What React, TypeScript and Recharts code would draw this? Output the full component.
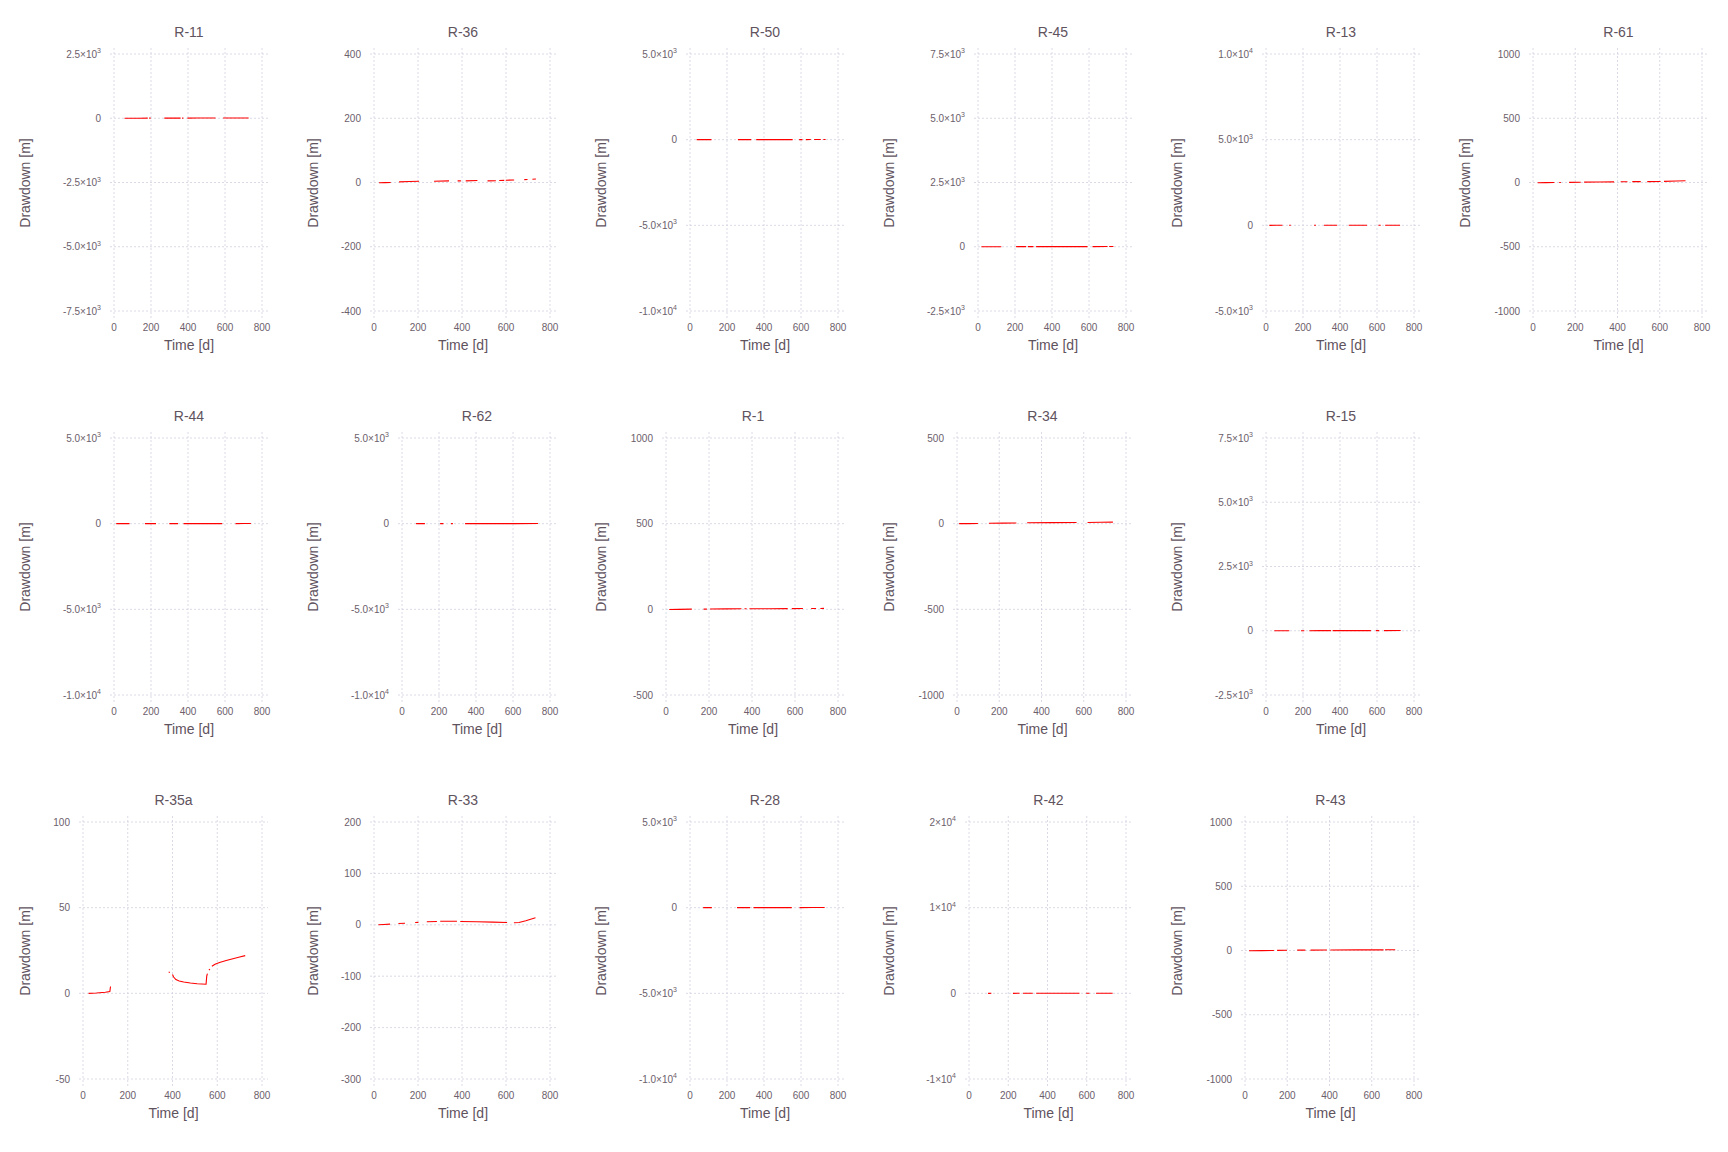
import React from "react";
import { LineChart, Line, XAxis, YAxis, CartesianGrid } from "recharts";

// Time axis shared by every well
const timeTicks = [0, 200, 400, 600, 800];

// Well data: time [d] and drawdown [m]; null marks a gap in the record
const r11Time = [57, 100, 140, 182, 186, 190, 198, 230, 272, 320, 360, 364, 368, 375, 386, 397, 450, 500, 549, 570, 590, 660, 728];
const r11Drawdown = [0, 1, 2, 3, null, 3, 3, null, 4, 5, 5, null, 5, 6, null, 6, 7, 8, 8, null, 9, 10, 11];
const r11Ticks = [2500, 0, -2500, -5000, -7500];
const r11Labels = ["2.5×10^3", "0", "-2.5×10^3", "-5.0×10^3", "-7.5×10^3"];

const r36Time = [23, 50, 76, 95, 114, 160, 205, 240, 273, 341, 360, 380, 395, 406, 417, 470, 493, 516, 554, 561, 569, 592, 595, 599, 637, 660, 683, 698, 709, 720, 736];
const r36Drawdown = [-1, -0.5, 0, null, 2, 3, 4, null, 4, 5, null, 5, 5, null, 5, 6, null, 5, 5.5, null, 6, 6.5, null, 7, 8, null, 9, 9.5, null, 10, 11];
const r36Ticks = [400, 200, 0, -200, -400];
const r36Labels = ["400", "200", "0", "-200", "-400"];

const r50Time = [36, 80, 116, 190, 259, 331, 345, 358, 450, 555, 570, 590, 608, 617, 626, 653, 662, 671, 707, 714, 721, 733];
const r50Drawdown = [0, 1, 2, null, 2, 3, null, 3, 4, 5, null, 5, 5, null, 5, 6, null, 6, 6, null, 6, 7];
const r50Ticks = [5000, 0, -5000, -10000];
const r50Labels = ["5.0×10^3", "0", "-5.0×10^3", "-1.0×10^4"];

const r45Time = [18, 70, 126, 166, 206, 260, 265, 270, 300, 307, 314, 450, 592, 605, 619, 700, 705, 709, 732];
const r45Drawdown = [0, 1, 2, null, 3, 3, null, 3, 4, null, 4, 5, 6, null, 6, 7, null, 7, 8];
const r45Ticks = [7500, 5000, 2500, 0, -2500];
const r45Labels = ["7.5×10^3", "5.0×10^3", "2.5×10^3", "0", "-2.5×10^3"];

const r13Time = [18, 50, 89, 107, 125, 134, 197, 260, 270, 291, 313, 385, 416, 447, 500, 546, 577, 608, 620, 632, 644, 725];
const r13Drawdown = [0, 1, 2, null, 2, 2, null, 3, 3, null, 4, 5, null, 5, 6, 7, null, 7, 7, null, 8, 9];
const r13Ticks = [10000, 5000, 0, -5000];
const r13Labels = ["1.0×10^4", "5.0×10^3", "0", "-5.0×10^3"];

const r61Time = [22, 60, 101, 112, 124, 132, 150, 171, 226, 234, 242, 310, 384, 400, 415, 447, 458, 470, 510, 525, 541, 604, 612, 620, 680, 722];
const r61Drawdown = [-2, -1, 0, null, 0.5, 0.5, null, 1, 2, null, 3, 4, 5, null, 6, 6, null, 7, 7, null, 7, 8, null, 9, 12, 14];
const r61Ticks = [1000, 500, 0, -500, -1000];
const r61Labels = ["1000", "500", "0", "-500", "-1000"];

const r44Time = [12, 50, 84, 125, 167, 227, 263, 299, 346, 361, 376, 480, 585, 621, 657, 700, 740];
const r44Drawdown = [0, 1, 1, null, 2, 2, null, 3, 3, null, 3, 4, 5, null, 5, 6, 6];
const r44Ticks = [5000, 0, -5000, -10000];
const r44Labels = ["5.0×10^3", "0", "-5.0×10^3", "-1.0×10^4"];

const r62Time = [76, 100, 124, 165, 206, 224, 245, 265, 275, 308, 341, 500, 620, 735];
const r62Drawdown = [0, 1, 1, null, 2, 2, null, 3, 3, null, 3, 4, 5, 6];
const r62Ticks = [5000, 0, -5000, -10000];
const r62Labels = ["5.0×10^3", "0", "-5.0×10^3", "-1.0×10^4"];

const r1Time = [15, 60, 120, 148, 175, 190, 198, 205, 280, 351, 358, 365, 375, 382, 388, 480, 566, 575, 585, 637, 656, 675, 698, 708, 718, 735];
const r1Drawdown = [-1, 0, 1, null, 1.5, 1.5, null, 2, 2.5, 3, null, 3, 3, null, 3, 3.5, 4, null, 4, 4.5, null, 5, 5, null, 5, 5.5];
const r1Ticks = [1000, 500, 0, -500];
const r1Labels = ["1000", "500", "0", "-500"];

const r34Time = [10, 55, 99, 125, 151, 220, 281, 306, 332, 450, 566, 592, 618, 680, 738];
const r34Drawdown = [0, 0, 1, null, 2, 3, 4, null, 5, 6, 7, null, 7, 8, 9];
const r34Ticks = [500, 0, -500, -1000];
const r34Labels = ["500", "0", "-500", "-1000"];

const r15Time = [45, 85, 126, 158, 189, 207, 220, 234, 290, 351, 355, 360, 460, 567, 580, 594, 612, 625, 638, 728];
const r15Drawdown = [0, 1, 1, null, 2, 2, null, 2, 3, 3, null, 3, 4, 5, null, 5, 5, null, 6, 7];
const r15Ticks = [7500, 5000, 2500, 0, -2500];
const r15Labels = ["7.5×10^3", "5.0×10^3", "2.5×10^3", "0", "-2.5×10^3"];

const r35aTime = [25, 60, 100, 120, 123, 250, 383, 388, 394, 400, 405, 415, 430, 450, 480, 510, 550, 553, 556, 560, 563, 567, 571, 576, 590, 610, 640, 670, 700, 725];
const r35aDrawdown = [0, 0.2, 0.6, 1, 4, null, 12.5, 12.2, null, 11, 9.5, 8, 7.2, 6.6, 6, 5.6, 5.3, 10, 11.5, null, 13.5, 14.2, null, 15.8, 17, 18, 19.2, 20.2, 21.2, 22];
const r35aTicks = [100, 50, 0, -50];
const r35aLabels = ["100", "50", "0", "-50"];

const r33Time = [20, 45, 73, 92, 111, 141, 164, 187, 202, 221, 240, 286, 293, 301, 377, 384, 392, 468, 540, 605, 620, 636, 659, 690, 734];
const r33Drawdown = [0, 0.5, 1.3, null, 2.6, 3, null, 4.6, 4.8, null, 6, 6.5, null, 7, 7, null, 6.5, 6, 5.2, 4.5, null, 4, 4.5, 8, 13.7];
const r33Ticks = [200, 100, 0, -100, -200, -300];
const r33Labels = ["200", "100", "0", "-100", "-200", "-300"];

const r28Time = [71, 95, 118, 186, 254, 325, 334, 343, 450, 550, 571, 592, 660, 728];
const r28Drawdown = [0, 1, 1, null, 2, 3, null, 3, 4, 5, null, 5, 6, 7];
const r28Ticks = [5000, 0, -5000, -10000];
const r28Labels = ["5.0×10^3", "0", "-5.0×10^3", "-1.0×10^4"];

const r42Time = [97, 105, 114, 169, 224, 258, 266, 275, 325, 333, 342, 450, 563, 580, 597, 614, 630, 647, 732];
const r42Drawdown = [0, 0, 1, null, 1, 2, null, 2, 3, null, 3, 4, 5, null, 5, 5, null, 6, 7];
const r42Ticks = [20000, 10000, 0, -10000];
const r42Labels = ["2×10^4", "1×10^4", "0", "-1×10^4"];

const r43Time = [19, 80, 137, 145, 152, 199, 223, 247, 286, 298, 310, 388, 396, 404, 530, 656, 660, 663, 711];
const r43Drawdown = [-2, -1, 0, null, 1, 2, null, 3, 3, null, 3, 4, null, 4, 5, 5, null, 6, 6];
const r43Ticks = [1000, 500, 0, -500, -1000];
const r43Labels = ["1000", "500", "0", "-500", "-1000"];

const wells = [
  { name: "R-11", time: r11Time, drawdown: r11Drawdown, ticks: r11Ticks, labels: r11Labels },
  { name: "R-36", time: r36Time, drawdown: r36Drawdown, ticks: r36Ticks, labels: r36Labels },
  { name: "R-50", time: r50Time, drawdown: r50Drawdown, ticks: r50Ticks, labels: r50Labels },
  { name: "R-45", time: r45Time, drawdown: r45Drawdown, ticks: r45Ticks, labels: r45Labels },
  { name: "R-13", time: r13Time, drawdown: r13Drawdown, ticks: r13Ticks, labels: r13Labels },
  { name: "R-61", time: r61Time, drawdown: r61Drawdown, ticks: r61Ticks, labels: r61Labels },
  { name: "R-44", time: r44Time, drawdown: r44Drawdown, ticks: r44Ticks, labels: r44Labels },
  { name: "R-62", time: r62Time, drawdown: r62Drawdown, ticks: r62Ticks, labels: r62Labels },
  { name: "R-1", time: r1Time, drawdown: r1Drawdown, ticks: r1Ticks, labels: r1Labels },
  { name: "R-34", time: r34Time, drawdown: r34Drawdown, ticks: r34Ticks, labels: r34Labels },
  { name: "R-15", time: r15Time, drawdown: r15Drawdown, ticks: r15Ticks, labels: r15Labels },
  { name: "R-35a", time: r35aTime, drawdown: r35aDrawdown, ticks: r35aTicks, labels: r35aLabels },
  { name: "R-33", time: r33Time, drawdown: r33Drawdown, ticks: r33Ticks, labels: r33Labels },
  { name: "R-28", time: r28Time, drawdown: r28Drawdown, ticks: r28Ticks, labels: r28Labels },
  { name: "R-42", time: r42Time, drawdown: r42Drawdown, ticks: r42Ticks, labels: r42Labels },
  { name: "R-43", time: r43Time, drawdown: r43Drawdown, ticks: r43Ticks, labels: r43Labels },
];

// panels per row of the grid
const rowSizes = [6, 5, 5];

const FONT = "'Liberation Sans', Arial, Helvetica, sans-serif";
const TICK_COLOR = "#6c606b";
const LABEL_COLOR = "#5f535e";
const PANEL_W = 288;
const PANEL_H = 384;
const PLOT_TOP = 48;
const PLOT_BOTTOM = 318;
const PLOT_RIGHT = 268;

// rough width the layout reserves for a tick label (like Gadfly does)
function reservedWidth(label: string) {
  const [base, exp] = label.split("^");
  let w = 0;
  for (const c of base) {
    if (/[0-9]/.test(c)) w += 7;
    else if (c === "-") w += 3;
    else if (c === ".") w += 2;
    else if (c === "×") w += 11;
  }
  if (exp) w += 8 * exp.length;
  return w;
}

function YTick(props: any) {
  const { x, y, payload, ticks, labels } = props;
  const i = ticks.indexOf(payload.value);
  const label: string = i >= 0 ? labels[i] : String(payload.value);
  const [base, exp] = label.split("^");
  return (
    <text x={x} y={y} dy="0.35em" textAnchor="end" fontSize={10} fill={TICK_COLOR} fontFamily={FONT}>
      {base}
      {exp && (
        <tspan dy={-4.5} fontSize={7}>
          {exp}
        </tspan>
      )}
    </text>
  );
}

function XTick(props: any) {
  const { x, y, payload } = props;
  return (
    <text x={x} y={y} dy="0.71em" textAnchor="middle" fontSize={10} fill={TICK_COLOR} fontFamily={FONT}>
      {payload.value}
    </text>
  );
}

function Panel({ well, left, top }: { well: (typeof wells)[number]; left: number; top: number }) {
  const plotLeft = 58 + Math.max(...well.labels.map(reservedWidth));
  const data = well.time.map((t, i) => ({ t, d: well.drawdown[i] }));
  const yMin = Math.min(...well.ticks);
  const yMax = Math.max(...well.ticks);
  const cx = (plotLeft + PLOT_RIGHT) / 2;
  const cy = (PLOT_TOP + PLOT_BOTTOM) / 2;

  return (
    <div style={{ position: "absolute", left, top, width: PANEL_W, height: PANEL_H }}>
      <LineChart
        width={PANEL_W}
        height={PANEL_H}
        data={data}
        margin={{ top: PLOT_TOP, right: PANEL_W - PLOT_RIGHT, bottom: 0, left: 0 }}
      >
        <CartesianGrid stroke="#d0d0e0" strokeDasharray="2 2" strokeWidth={0.8} syncWithTicks />
        <XAxis
          dataKey="t"
          type="number"
          domain={[0, 800]}
          ticks={timeTicks}
          interval={0}
          padding={{ left: 4, right: 6 }}
          height={PANEL_H - PLOT_BOTTOM}
          axisLine={false}
          tickLine={false}
          tickSize={0}
          tickMargin={6}
          tick={<XTick />}
        />
        <YAxis
          type="number"
          domain={[yMin, yMax]}
          ticks={well.ticks}
          interval={0}
          padding={{ top: 6, bottom: 7 }}
          width={plotLeft}
          axisLine={false}
          tickLine={false}
          tickSize={0}
          tickMargin={9}
          tick={(p: any) => <YTick {...p} ticks={well.ticks} labels={well.labels} />}
        />
        <Line
          type="linear"
          dataKey="d"
          stroke="#ff0000"
          strokeWidth={1.1}
          dot={false}
          activeDot={false}
          connectNulls={false}
          isAnimationActive={false}
        />
        <text x={cx} y={32} dy="0.35em" textAnchor="middle" fontSize={14} fill={LABEL_COLOR} fontFamily={FONT}>
          {well.name}
        </text>
        <text x={cx} y={345} dy="0.35em" textAnchor="middle" fontSize={14} fill={LABEL_COLOR} fontFamily={FONT}>
          Time [d]
        </text>
        <text
          x={25}
          y={cy}
          dy="0.35em"
          textAnchor="middle"
          fontSize={14}
          fill={LABEL_COLOR}
          fontFamily={FONT}
          transform={`rotate(-90 25 ${cy})`}
        >
          Drawdown [m]
        </text>
      </LineChart>
    </div>
  );
}

export default function App() {
  const panels: React.ReactNode[] = [];
  let k = 0;
  rowSizes.forEach((n, row) => {
    for (let col = 0; col < n; col++) {
      const well = wells[k++];
      panels.push(<Panel key={well.name} well={well} left={col * PANEL_W} top={row * PANEL_H} />);
    }
  });
  return (
    <div style={{ position: "absolute", left: 0, top: 0, width: 1728, height: 1152, background: "#fff" }}>
      {panels}
    </div>
  );
}
